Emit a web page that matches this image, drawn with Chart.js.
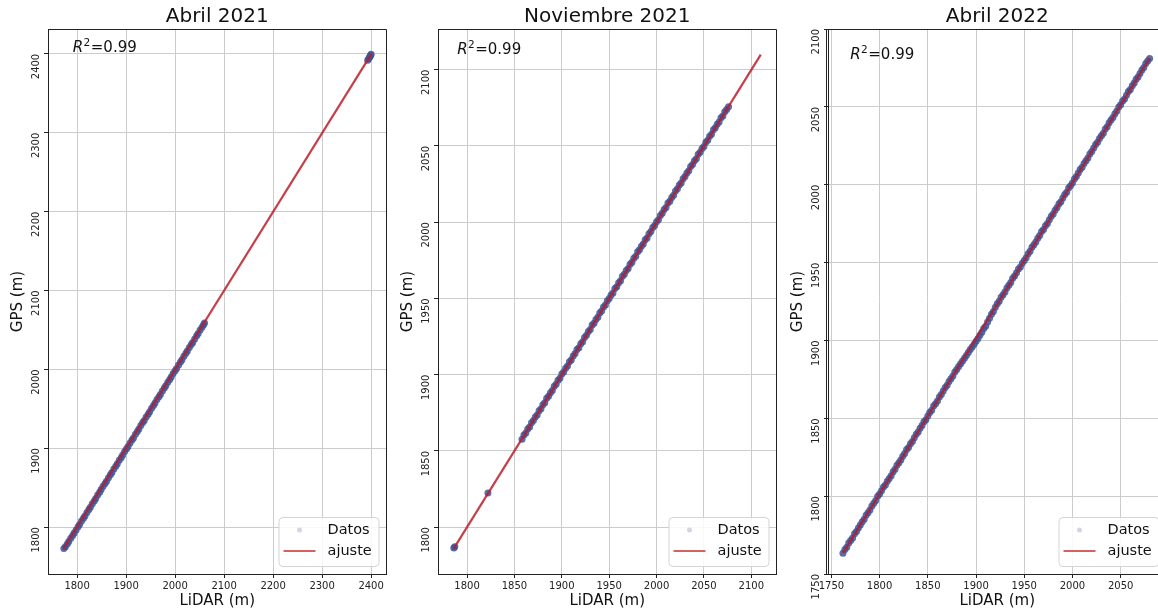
<!DOCTYPE html>
<html>
<head>
<meta charset="utf-8">
<script src="https://cdn.jsdelivr.net/npm/chart.js@4.4.1/dist/chart.umd.min.js"></script>
<style>
  html, body { margin: 0; padding: 0; background: #fff; overflow: hidden; }
  #wrap { position: relative; width: 1158px; height: 612px; overflow: hidden; background: #fff; }
  #wrap canvas { position: absolute; top: 0; }
</style>
</head>
<body>
<div id="wrap">
  <canvas id="c1" width="390" height="612" style="left:0px"></canvas>
  <canvas id="c2" width="390" height="612" style="left:390px"></canvas>
  <canvas id="c3" width="390" height="612" style="left:780px"></canvas>
</div>
<script>
// ---- Abril 2021 ----
const lidarA21 = [
  1773, 1776, 1780, 1783, 1787, 1791, 1794, 1798, 1802, 1805,
  1809, 1813, 1816, 1820, 1824, 1827, 1831, 1835, 1838, 1842,
  1846, 1849, 1853, 1857, 1860, 1864, 1868, 1871, 1875, 1879,
  1882, 1886, 1890, 1893, 1897, 1901, 1904, 1908, 1912, 1915,
  1919, 1923, 1926, 1930, 1934, 1937, 1941, 1945, 1948, 1952,
  1956, 1959, 1963, 1967, 1970, 1974, 1978, 1981, 1985, 1989,
  1992, 1996, 2000, 2003, 2007, 2011, 2014, 2018, 2022, 2025,
  2029, 2033, 2036, 2040, 2044, 2047, 2051, 2055, 2058, 2060,
  2393, 2395, 2397, 2398, 2399, 2400
];
const gpsA21 = [
  1772.9, 1775.2, 1778.6, 1781.8, 1785.9, 1789.5, 1792.7, 1796.4, 1800.6, 1803.3,
  1807.8, 1811.4, 1814.2, 1818.7, 1822.5, 1825.1, 1829.6, 1833.2, 1836.4, 1840.8,
  1844.1, 1847.6, 1851.9, 1855.3, 1858.2, 1862.7, 1866.4, 1869.1, 1873.8, 1877.2,
  1880.5, 1884.9, 1888.1, 1891.4, 1895.8, 1899.3, 1902.2, 1906.7, 1910.4, 1913.1,
  1917.6, 1921.2, 1924.3, 1928.9, 1932.5, 1935.2, 1939.7, 1943.1, 1946.4, 1950.8,
  1954.2, 1957.5, 1961.9, 1965.3, 1968.2, 1972.6, 1976.4, 1979.1, 1983.7, 1987.2,
  1990.4, 1994.8, 1998.3, 2001.2, 2005.6, 2009.4, 2012.1, 2016.7, 2020.3, 2023.2,
  2027.8, 2031.4, 2034.1, 2038.6, 2042.5, 2045.3, 2049.8, 2053.4, 2056.6, 2058.7,
  2391.8, 2393.6, 2395.9, 2396.7, 2398.1, 2399.4
];
const fitLidarA21 = [1772, 2400];
const fitGpsA21 = [1772.6, 2399.2];
const ticksA21 = [1800, 1900, 2000, 2100, 2200, 2300, 2400];

// ---- Noviembre 2021 ----
const lidarN21 = [
  1786, 1787, 1822,
  1858, 1860, 1862, 1864, 1866, 1868, 1870, 1872, 1874, 1876,
  1878, 1880, 1882, 1884, 1886, 1888, 1890, 1892, 1894, 1896,
  1898, 1900, 1902, 1904, 1906, 1908, 1910, 1912, 1914, 1916,
  1918, 1920, 1922, 1924, 1926, 1928, 1930, 1932, 1934, 1936,
  1938, 1940, 1942, 1944, 1946, 1948, 1950, 1952, 1954, 1956,
  1958, 1960, 1962, 1964, 1966, 1968, 1970, 1972, 1974, 1976,
  1978, 1980, 1982, 1984, 1986, 1988, 1990, 1992, 1994, 1996,
  1998, 2000, 2002, 2004, 2006, 2008, 2010, 2012, 2014, 2016,
  2018, 2020, 2022, 2024, 2026, 2028, 2030, 2032, 2034, 2036,
  2038, 2040, 2042, 2044, 2046, 2048, 2050, 2052, 2054, 2056,
  2058, 2060, 2062, 2064, 2066, 2068, 2070, 2072, 2074, 2076
];
const gpsN21 = [
  1786.3, 1787.2, 1822.4,
  1857.6, 1860.4, 1861.8, 1864.3, 1865.7, 1868.5, 1869.9, 1872.2, 1873.6, 1876.4,
  1877.7, 1880.3, 1881.6, 1884.5, 1885.8, 1888.2, 1889.6, 1892.4, 1893.7, 1896.3,
  1897.6, 1900.5, 1901.8, 1904.2, 1905.7, 1908.4, 1909.6, 1912.3, 1913.8, 1916.5,
  1917.7, 1920.2, 1921.6, 1924.4, 1925.8, 1928.3, 1929.6, 1932.5, 1933.7, 1936.2,
  1937.6, 1940.4, 1941.8, 1944.3, 1945.7, 1948.5, 1949.9, 1952.2, 1953.6, 1956.4,
  1957.7, 1960.3, 1961.6, 1964.5, 1965.8, 1968.2, 1969.6, 1972.4, 1973.7, 1976.3,
  1977.6, 1980.5, 1981.8, 1984.2, 1985.7, 1988.4, 1989.6, 1992.3, 1993.8, 1996.5,
  1997.7, 2000.2, 2001.6, 2004.4, 2005.8, 2008.3, 2009.6, 2012.5, 2013.7, 2016.2,
  2017.6, 2020.4, 2021.8, 2024.3, 2025.7, 2028.5, 2029.9, 2032.2, 2033.6, 2036.4,
  2037.7, 2040.3, 2041.6, 2044.5, 2045.8, 2048.2, 2049.6, 2052.4, 2053.7, 2056.3,
  2057.6, 2060.5, 2061.8, 2064.2, 2065.7, 2068.4, 2069.6, 2072.3, 2073.8, 2075.6
];
const fitLidarN21 = [1786, 2110];
const fitGpsN21 = [1786.1, 2109.8];
const ticksN21 = [1800, 1850, 1900, 1950, 2000, 2050, 2100];

// ---- Abril 2022 ----
const lidarA22 = [
  1762, 1764, 1766, 1768, 1770, 1772, 1774, 1776, 1778, 1780,
  1782, 1784, 1786, 1788, 1790, 1792, 1794, 1796, 1798, 1800,
  1802, 1804, 1806, 1808, 1810, 1812, 1814, 1816, 1818, 1820,
  1822, 1824, 1826, 1828, 1830, 1832, 1834, 1836, 1838, 1840,
  1842, 1844, 1846, 1848, 1850, 1852, 1854, 1856, 1858, 1860,
  1862, 1864, 1866, 1868, 1870, 1872, 1874, 1876, 1878, 1880,
  1882, 1884, 1886, 1888, 1890, 1892, 1894, 1896, 1898, 1900,
  1902, 1904, 1906, 1908, 1910, 1912, 1914, 1916, 1918, 1920,
  1922, 1924, 1926, 1928, 1930, 1932, 1934, 1936, 1938, 1940,
  1942, 1944, 1946, 1948, 1950, 1952, 1954, 1956, 1958, 1960,
  1962, 1964, 1966, 1968, 1970, 1972, 1974, 1976, 1978, 1980,
  1982, 1984, 1986, 1988, 1990, 1992, 1994, 1996, 1998, 2000,
  2002, 2004, 2006, 2008, 2010, 2012, 2014, 2016, 2018, 2020,
  2022, 2024, 2026, 2028, 2030, 2032, 2034, 2036, 2038, 2040,
  2042, 2044, 2046, 2048, 2050, 2052, 2054, 2056, 2058, 2060,
  2062, 2064, 2066, 2068, 2070, 2072, 2074, 2076, 2078, 2080
];
const gpsA22 = [
  1763.4, 1765.7, 1767.2, 1769.9, 1771.5, 1773.1, 1775.8, 1777.3, 1779.6, 1781.4,
  1783.6, 1785.2, 1787.8, 1789.4, 1791.1, 1793.7, 1795.5, 1797.2, 1799.9, 1801.3,
  1803.5, 1805.8, 1807.2, 1809.6, 1811.4, 1813.1, 1815.7, 1817.3, 1819.8, 1821.5,
  1823.2, 1825.6, 1827.4, 1829.9, 1831.3, 1833.7, 1835.1, 1837.5, 1839.8, 1841.2,
  1843.6, 1845.3, 1847.8, 1849.1, 1851.5, 1853.7, 1855.2, 1857.9, 1859.4, 1861.1,
  1863.7, 1865.3, 1867.5, 1869.8, 1871.2, 1873.6, 1875.4, 1877.1, 1879.7, 1881.3,
  1883.2, 1885.1, 1886.8, 1888.6, 1890.4, 1892.2, 1894.1, 1895.7, 1897.6, 1899.5,
  1901.3, 1903.4, 1905.2, 1907.6, 1909.1, 1911.9, 1914.2, 1916.8, 1918.5, 1921.3,
  1923.6, 1925.2, 1927.8, 1929.4, 1931.1, 1933.7, 1935.5, 1937.2, 1939.9, 1941.3,
  1943.5, 1945.8, 1947.2, 1949.6, 1951.4, 1953.1, 1955.7, 1957.3, 1959.8, 1961.5,
  1963.2, 1965.6, 1967.4, 1969.9, 1971.3, 1973.7, 1975.1, 1977.5, 1979.8, 1981.2,
  1983.6, 1985.3, 1987.8, 1989.1, 1991.5, 1993.7, 1995.2, 1997.9, 1999.4, 2001.1,
  2003.7, 2005.3, 2007.5, 2009.8, 2011.2, 2013.6, 2015.4, 2017.1, 2019.7, 2021.3,
  2023.5, 2025.8, 2027.2, 2029.6, 2031.4, 2033.1, 2035.7, 2037.3, 2039.8, 2041.5,
  2043.2, 2045.6, 2047.4, 2049.9, 2051.3, 2053.7, 2055.1, 2057.5, 2059.8, 2061.2,
  2063.6, 2065.3, 2067.8, 2069.1, 2071.5, 2073.7, 2075.2, 2077.9, 2079.4, 2081.0
];
const fitLidarA22 = [1762, 2080];
const fitGpsA22 = [1763.5, 2081.2];
const xTicksA22 = [1750, 1800, 1850, 1900, 1950, 2000, 2050];
const yTicksA22 = [1750, 1800, 1850, 1900, 1950, 2000, 2050, 2100];

const r2Text = '0.99';

// ---- styling ----
const FONT = "'DejaVu Sans', 'Liberation Sans', sans-serif";
const INK = '#222222';
const DATA_COLOR = 'rgba(62, 84, 148, 0.85)';
const FIT_COLOR = 'rgba(188, 28, 42, 0.85)';
const LEGEND_DOT = 'rgba(130, 135, 165, 0.35)';

Chart.defaults.font.family = FONT;
Chart.defaults.color = INK;

// Frame, title, R² note and legend box for each panel
const panelDecor = {
  id: 'panelDecor',
  afterDraw(chart, args, opts) {
    const { ctx, chartArea: a, scales } = chart;
    ctx.save();

    // spines
    ctx.strokeStyle = INK;
    ctx.lineWidth = 1;
    const L = Math.round(a.left) + 0.5, T = Math.round(a.top) + 0.5;
    const R = Math.round(a.right) - 0.5, B = Math.round(a.bottom) + 0.5;
    ctx.beginPath();
    ctx.moveTo(L, T); ctx.lineTo(R, T); ctx.lineTo(R, B);
    ctx.stroke();
    if (opts.doubleSpine) {
      ctx.beginPath();
      ctx.moveTo(L - 2, T); ctx.lineTo(L - 2, B);
      ctx.stroke();
    }

    // panel title
    ctx.fillStyle = '#111';
    ctx.font = '20px ' + FONT;
    ctx.textAlign = 'center';
    ctx.textBaseline = 'middle';
    ctx.fillText(opts.title, (a.left + a.right) / 2, 17);

    // R² note, anchored in data coordinates
    const px = scales.x.getPixelForValue(opts.r2At[0]);
    const py = scales.y.getPixelForValue(opts.r2At[1]);
    ctx.textAlign = 'left';
    ctx.textBaseline = 'alphabetic';
    ctx.font = 'italic 15px ' + FONT;
    ctx.fillText('R', px, py);
    let cx = px + ctx.measureText('R').width + 0.5;
    ctx.font = '10.5px ' + FONT;
    ctx.fillText('2', cx, py - 6);
    cx += ctx.measureText('2').width + 0.5;
    ctx.font = '15px ' + FONT;
    ctx.fillText('=' + r2Text, cx, py);

    // legend box (lower right)
    const w = 100, h = 49;
    const bx = a.right - 8 - w, by = a.bottom - 8 - h;
    ctx.beginPath();
    if (ctx.roundRect) ctx.roundRect(bx + 0.5, by + 0.5, w, h, 4); else ctx.rect(bx + 0.5, by + 0.5, w, h);
    ctx.fillStyle = 'rgba(255,255,255,0.85)';
    ctx.fill();
    ctx.strokeStyle = '#d4d4d4';
    ctx.stroke();

    const ds = chart.data.datasets;
    const rows = [by + 13, by + 34];
    ctx.font = '14.5px ' + FONT;
    ctx.textBaseline = 'middle';
    ds.forEach((d, i) => {
      const yy = rows[i];
      if (d.showLine) {
        ctx.strokeStyle = 'rgba(200, 60, 60, 0.8)';
        ctx.lineWidth = 2;
        ctx.beginPath();
        ctx.moveTo(bx + 5, yy); ctx.lineTo(bx + 37, yy);
        ctx.stroke();
      } else {
        ctx.fillStyle = LEGEND_DOT;
        ctx.beginPath();
        ctx.arc(bx + 21, yy, 2.5, 0, Math.PI * 2);
        ctx.fill();
      }
      ctx.fillStyle = '#111';
      ctx.fillText(d.label, bx + 49, yy);
    });
    ctx.restore();
  }
};

function pairs(xs, ys) { return xs.map((x, i) => ({ x: x, y: ys[i] })); }

function makePanel(id, cfg) {
  const tickSet = (vals) => (scale) => { scale.ticks = vals.map(v => ({ value: v })); };
  return new Chart(document.getElementById(id), {
    type: 'scatter',
    data: {
      datasets: [
        {
          label: 'Datos',
          data: pairs(cfg.lidar, cfg.gps),
          order: 2,
          showLine: false,
          pointRadius: 3.5,
          pointHoverRadius: 3.5,
          pointBackgroundColor: DATA_COLOR,
          pointBorderWidth: 0
        },
        {
          label: 'ajuste',
          data: pairs(cfg.fitX, cfg.fitY),
          order: 1,
          showLine: true,
          borderColor: FIT_COLOR,
          borderWidth: 2.2,
          pointRadius: 0,
          pointHoverRadius: 0,
          fill: false,
          tension: 0
        }
      ]
    },
    options: {
      responsive: false,
      animation: false,
      devicePixelRatio: 1,
      events: [],
      layout: { padding: { top: 29, right: 3, bottom: 0, left: 0 } },
      plugins: {
        legend: { display: false },
        tooltip: { enabled: false },
        title: { display: false },
        panelDecor: { title: cfg.title, r2At: cfg.r2At, doubleSpine: !!cfg.doubleSpine }
      },
      scales: {
        x: {
          type: 'linear',
          position: 'bottom',
          min: cfg.xMin,
          max: cfg.xMax,
          afterBuildTicks: tickSet(cfg.xTicks),
          afterFit: (s) => { s.height = 38; },
          ticks: {
            autoSkip: false, maxRotation: 0, minRotation: 0,
            font: { size: 10 }, color: INK, padding: 2,
            callback: (v) => String(v)
          },
          grid: { color: '#cccccc', lineWidth: 1, tickLength: 4, tickColor: INK, tickWidth: 1 },
          border: { color: INK, width: 1 },
          title: { display: true, text: 'LiDAR (m)', font: { size: 15 }, color: '#111', padding: { top: 0, bottom: 2 } }
        },
        y: {
          type: 'linear',
          position: 'left',
          min: cfg.yMin,
          max: cfg.yMax,
          afterBuildTicks: tickSet(cfg.yTicks),
          afterFit: (s) => { s.width = 48; },
          ticks: {
            autoSkip: false, minRotation: 90, maxRotation: 90, crossAlign: 'near',
            font: { size: 10 }, color: INK, padding: 8,
            callback: (v) => String(v)
          },
          grid: { color: '#cccccc', lineWidth: 1, tickLength: 4, tickColor: INK, tickWidth: 1 },
          border: { color: INK, width: 1 },
          title: { display: true, text: 'GPS (m)', font: { size: 15 }, color: '#111', padding: { top: 9, bottom: 0 } }
        }
      }
    },
    plugins: [panelDecor]
  });
}

makePanel('c1', {
  title: 'Abril 2021',
  lidar: lidarA21, gps: gpsA21, fitX: fitLidarA21, fitY: fitGpsA21,
  xMin: 1740.6, xMax: 2431.4, yMin: 1740.6, yMax: 2431.4,
  xTicks: ticksA21, yTicks: ticksA21,
  r2At: [1791, 2402]
});

makePanel('c2', {
  title: 'Noviembre 2021',
  lidar: lidarN21, gps: gpsN21, fitX: fitLidarN21, fitY: fitGpsN21,
  xMin: 1769.3, xMax: 2126.6, yMin: 1769.3, yMax: 2126.6,
  xTicks: ticksN21, yTicks: ticksN21,
  r2At: [1789.5, 2110.5]
});

makePanel('c3', {
  title: 'Abril 2022',
  lidar: lidarA22, gps: gpsA22, fitX: fitLidarA22, fitY: fitGpsA22,
  xMin: 1746.5, xMax: 2097.5, yMin: 1750, yMax: 2100,
  xTicks: xTicksA22, yTicks: yTicksA22,
  r2At: [1769.5, 2080.5],
  doubleSpine: true
});
</script>
</body>
</html>
